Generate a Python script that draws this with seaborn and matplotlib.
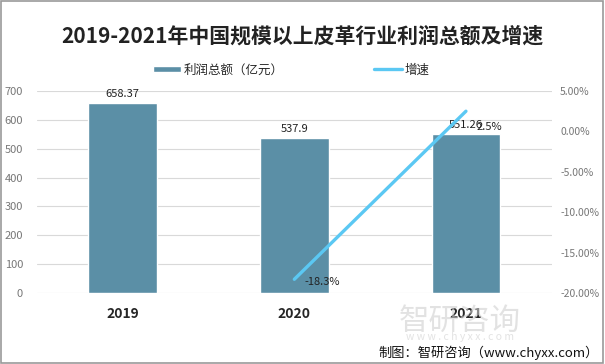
import numpy as np
import pandas as pd
import matplotlib.pyplot as plt
import seaborn as sns

years = ['2019', '2020', '2021']
profit = [658.37, 537.9, 551.26]
growth_years = ['2020', '2021']
growth = [-18.3, 2.5]

sns.set_style('white')
plt.rcParams['font.family'] = ['Noto Sans CJK SC', 'DejaVu Sans']

bar_color = '#5b8fa6'
line_color = '#5bc8f3'

df = pd.DataFrame({'year': years, 'profit': profit})

fig = plt.figure(figsize=(6.05, 3.64), dpi=100)
ax = fig.add_axes([0.061, 0.195, 0.851, 0.555])

sns.barplot(data=df, x='year', y='profit', color=bar_color, width=0.4,
            saturation=1, ax=ax, label='利润总额（亿元）')
if ax.get_legend() is not None:
    ax.get_legend().remove()
ax.set_ylim(0, 700)
ax.set_yticks(range(0, 701, 100))
ax.yaxis.grid(True, color='#d9d9d9', linewidth=0.8)
ax.set_axisbelow(True)
for s in ax.spines.values():
    s.set_visible(False)
ax.set_xlabel('')
ax.set_ylabel('')
ax.tick_params(axis='y', labelsize=8, labelcolor='#777777', length=0, pad=10)
ax.tick_params(axis='x', labelsize=10, length=0, pad=10)
for lbl in ax.get_xticklabels():
    lbl.set_fontweight('bold')
for i, v in enumerate(profit):
    ax.text(i, v + 14, f'{v:g}', ha='center', va='bottom', fontsize=8, color='#222222')

ax2 = ax.twinx()
xpos = [years.index(y) for y in growth_years]
sns.lineplot(x=xpos, y=growth, color=line_color, linewidth=2.4, ax=ax2, label='增速')
ax2.set_ylim(-20, 5)
ax2.set_yticks(range(-20, 6, 5))
ax2.set_yticklabels([f'{t:.2f}%' for t in range(-20, 6, 5)])
ax2.tick_params(axis='y', labelsize=7.5, labelcolor='#777777', length=0, pad=6)
for s in ax2.spines.values():
    s.set_visible(False)
ax2.set_ylabel('')
if ax2.get_legend() is not None:
    ax2.get_legend().remove()
ax.set_xlim(-0.5, 2.5)
label_dy = [-0.3, -1.9]
for x, g, dy in zip(xpos, growth, label_dy):
    ax2.text(x + 0.06, g + dy, f'{g}%', ha='left', va='center', fontsize=8, color='#222222')

h1, l1 = ax.get_legend_handles_labels()
h2, l2 = ax2.get_legend_handles_labels()
fig.legend(h1 + h2, l1 + l2, loc='center', bbox_to_anchor=(0.482, 0.808), ncol=2,
           frameon=False, fontsize=9, columnspacing=7.2, handlelength=2.2, handleheight=0.45,
           handletextpad=0.25)

fig.text(0.5, 0.9, '2019-2021年中国规模以上皮革行业利润总额及增速', ha='center', va='center',
         fontsize=15, fontweight='bold', color='#222222')

# watermark
fig.text(0.76, 0.118, '智研咨询', ha='center', va='center', fontsize=22, color='#d0d0d0', alpha=0.6)
fig.text(0.76, 0.075, 'w w w . c h y x x . c o m', ha='center', va='center', fontsize=7.5,
         color='#d0d0d0', alpha=0.6)

fig.text(0.99, 0.032, '制图：智研咨询（www.chyxx.com）', ha='right', va='center', fontsize=9.5,
         color='#111111')

fig.patches.append(plt.Rectangle((0.002, 0.003), 0.995, 0.994, transform=fig.transFigure,
                                 fill=False, edgecolor='#999999', linewidth=1.2))

fig.savefig('out.png', dpi=100)
